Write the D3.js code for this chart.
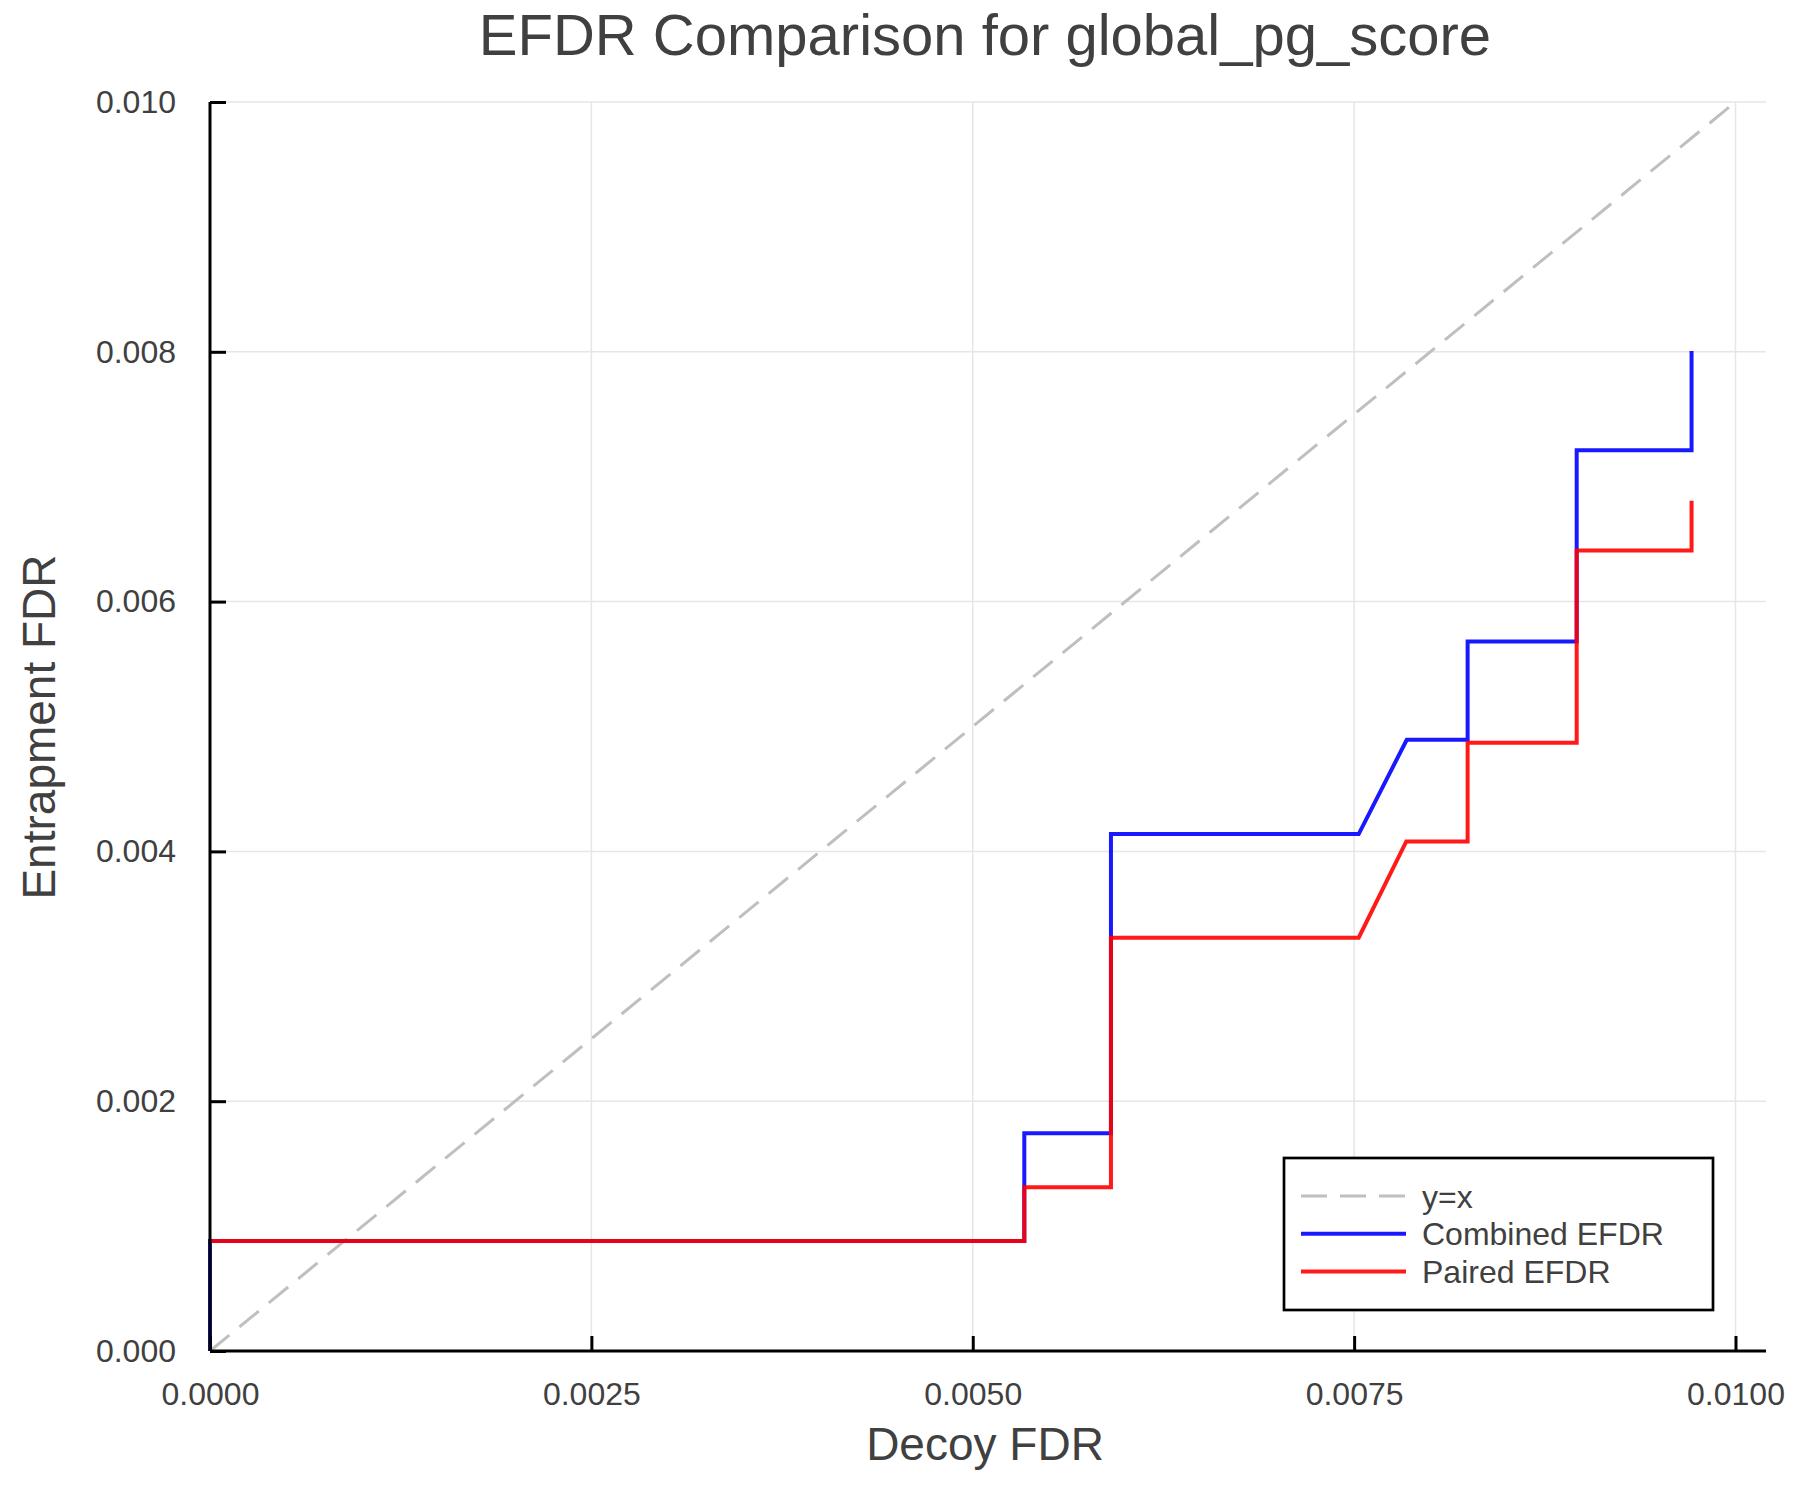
<!DOCTYPE html>
<html>
<head>
<meta charset="utf-8">
<script src="https://cdn.jsdelivr.net/npm/d3@7"></script>
<style>
  body { margin: 0; background: #fff; }
  text { font-family: "Liberation Sans", Arial, Helvetica, sans-serif; fill: #404040; }
</style>
</head>
<body>
<div id="chart"></div>
<script>
// decoy FDR (x) and entrapment FDR (y) for each curve
const combinedX = [0, 0, 0.005338, 0.005338, 0.005906, 0.005906, 0.007530, 0.007845, 0.008244, 0.008244, 0.008959, 0.008959, 0.009712, 0.009712];
const combinedY = [0, 0.000881, 0.000881, 0.001743, 0.001743, 0.004139, 0.004139, 0.004894, 0.004894, 0.005681, 0.005681, 0.007211, 0.007211, 0.008007];
const pairedX = [0, 0.005338, 0.005338, 0.005906, 0.005906, 0.007530, 0.007842, 0.008244, 0.008244, 0.008959, 0.008959, 0.009712, 0.009712];
const pairedY = [0.000881, 0.000881, 0.001311, 0.001311, 0.003309, 0.003309, 0.004080, 0.004080, 0.004869, 0.004869, 0.006409, 0.006409, 0.006807];
const diagX = [0, 0.01];
const diagY = [0, 0.01];

const xTicks = [0, 0.0025, 0.005, 0.0075, 0.01];
const yTicks = [0, 0.002, 0.004, 0.006, 0.008, 0.01];
const seriesNames = ['y=x', 'Combined EFDR', 'Paired EFDR'];

const W = 1800, H = 1500;
const plot = {left: 210, right: 1766, top: 102, bottom: 1351};

const svg = d3.select('#chart')
  .append('svg')
  .attr('width', W)
  .attr('height', H);

const x = d3.scaleLinear().domain([0, 0.0102]).range([plot.left, plot.right]);
const y = d3.scaleLinear().domain([0, 0.01]).range([plot.bottom, plot.top]);

// grid
svg.append('g').selectAll('line')
  .data(xTicks)
  .enter().append('line')
  .attr('x1', d => x(d)).attr('x2', d => x(d))
  .attr('y1', plot.top).attr('y2', plot.bottom)
  .attr('stroke', '#e6e6e6').attr('stroke-width', 1.5);
svg.append('g').selectAll('line')
  .data(yTicks)
  .enter().append('line')
  .attr('x1', plot.left).attr('x2', plot.right)
  .attr('y1', d => y(d)).attr('y2', d => y(d))
  .attr('stroke', '#e6e6e6').attr('stroke-width', 1.5);

// curves
const line = d3.line().x(d => x(d[0])).y(d => y(d[1]));
const curves = [
  {pts: d3.zip(diagX, diagY), color: '#bfbfbf', width: 3, dash: '25,13', opacity: 1},
  {pts: d3.zip(combinedX, combinedY), color: '#0000ff', width: 4, dash: null, opacity: 0.9},
  {pts: d3.zip(pairedX, pairedY), color: '#ff0000', width: 4, dash: null, opacity: 0.9}
];
svg.append('g').selectAll('path')
  .data(curves)
  .enter().append('path')
  .attr('d', d => line(d.pts))
  .attr('fill', 'none')
  .attr('stroke', d => d.color)
  .attr('stroke-width', d => d.width)
  .attr('stroke-opacity', d => d.opacity)
  .attr('stroke-dasharray', d => d.dash)
  .attr('stroke-linejoin', 'miter');

// axes
const xAxis = d3.axisBottom(x).tickValues(xTicks).tickFormat(d3.format('.4f'))
  .tickSizeInner(-15).tickSizeOuter(0).tickPadding(31);
const yAxis = d3.axisLeft(y).tickValues(yTicks).tickFormat(d3.format('.3f'))
  .tickSizeInner(-16).tickSizeOuter(0).tickPadding(34);

const gx = svg.append('g')
  .attr('transform', `translate(0, ${plot.bottom})`)
  .call(xAxis);
const gy = svg.append('g')
  .attr('transform', `translate(${plot.left}, 0)`)
  .call(yAxis);

[gx, gy].forEach(g => {
  g.select('.domain').attr('stroke', '#000').attr('stroke-width', 3);
  g.selectAll('.tick line').attr('stroke', '#000').attr('stroke-width', 3);
  g.selectAll('.tick text')
    .attr('fill', '#404040')
    .style('font-size', '32px')
    .style('font-family', '"Liberation Sans", Arial, sans-serif');
});
gx.select('.domain').attr('d', `M${plot.left},0H${plot.right}`);
gy.select('.domain').attr('d', `M0,${plot.top}V${plot.bottom}`);

// titles
svg.append('text')
  .attr('x', 985).attr('y', 55)
  .attr('text-anchor', 'middle')
  .style('font-size', '58px')
  .text('EFDR Comparison for global_pg_score');
svg.append('text')
  .attr('x', 985).attr('y', 1460)
  .attr('text-anchor', 'middle')
  .style('font-size', '46px')
  .text('Decoy FDR');
svg.append('text')
  .attr('transform', 'translate(55, 727) rotate(-90)')
  .attr('text-anchor', 'middle')
  .style('font-size', '46px')
  .text('Entrapment FDR');

// legend
const legend = svg.append('g').attr('transform', 'translate(1284, 1158)');
legend.append('rect')
  .attr('width', 429).attr('height', 152)
  .attr('fill', '#fff')
  .attr('stroke', '#000').attr('stroke-width', 2.7);
const items = legend.selectAll('g.item')
  .data(curves)
  .enter().append('g')
  .attr('class', 'item')
  .attr('transform', (d, i) => `translate(0, ${38 + i * 37.7})`);
items.append('line')
  .attr('x1', 17).attr('x2', 122)
  .attr('stroke', d => d.color)
  .attr('stroke-width', d => d.width)
  .attr('stroke-opacity', d => d.opacity)
  .attr('stroke-dasharray', d => d.dash ? '26,13' : null);
items.append('text')
  .attr('x', 138).attr('y', 11.5)
  .style('font-size', '32px')
  .text((d, i) => seriesNames[i]);
</script>
</body>
</html>
